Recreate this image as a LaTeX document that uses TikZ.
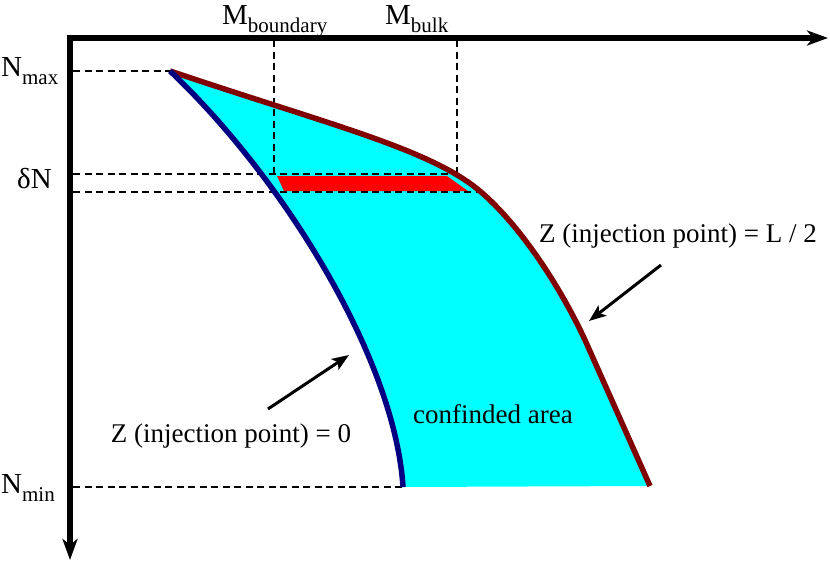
\documentclass[tikz,border=0pt]{standalone}
\usepackage{fontspec}
\setmainfont{Liberation Serif}
\usetikzlibrary{arrows.meta}
\definecolor{bulkred}{RGB}{128,0,0}
\definecolor{wallblue}{RGB}{0,0,128}
\definecolor{areacyan}{RGB}{0,255,255}
\definecolor{bandred}{RGB}{255,0,0}
\newcommand{\lowsub}[2]{#1\raisebox{-8pt}{\fontsize{21}{21}\selectfont #2}}
\tikzset{
	axis/.style={
		line width=5.5pt,
		line join=miter,
		{Stealth[length=21pt,width=15pt,inset=6pt]}-{Stealth[length=21pt,width=15pt,inset=6pt]}
	},
	guide/.style={line width=2.7pt, dash pattern=on 7pt off 4.5pt},
	profile/.style={line width=5.5pt},
	pointer/.style={line width=3pt, -{Stealth[length=17pt,width=13pt,inset=4pt]}},
	axlabel/.style={inner sep=0pt, anchor=base west, font=\fontsize{29}{29}\selectfont},
	note/.style={inner sep=0pt, anchor=base, font=\fontsize{27}{27}\selectfont}
}
\begin{document}
\begin{tikzpicture}[x=1pt, y=-1pt]
	\useasboundingbox (0,0) rectangle (830,568);
	\coordinate (origin) at (70,38);
	\coordinate (xend) at (828,38);
	\coordinate (yend) at (70,560);
	\coordinate (top) at (170,71);
	\coordinate (knee) at (481,192);
	\coordinate (bend) at (585,340);
	\coordinate (bulkbot) at (650,486);
	\coordinate (wallbot) at (403,487);
	\coordinate (ymax) at (73,71);
	\coordinate (ymin) at (73,487);
	\coordinate (dtop) at (73,174);
	\coordinate (dbot) at (73,192);
	\coordinate (mbnd) at (274,40);
	\coordinate (mbndc) at (274,174);
	\coordinate (mblk) at (457,40);
	\coordinate (mblkc) at (457,174);
	\coordinate (wtail) at (268,409);
	\coordinate (wtip) at (349,355);
	\coordinate (btail) at (661,265);
	\coordinate (btip) at (589,321);

	\fill[areacyan] (top) .. controls (330,125) and (431,149) .. (knee) .. controls (516,222) and (556,278) .. (bend) -- (bulkbot) -- (wallbot) .. controls (395,360) and (285,180) .. (top) -- cycle;
	\fill[bandred] (277,176) -- (447,176) -- (468,191) -- (284,191) -- cycle;

	\draw[guide] (ymax) -- (top);
	\draw[guide] (dtop) -- (mblkc);
	\draw[guide] (dbot) -- (knee);
	\draw[guide] (ymin) -- (wallbot);
	\draw[guide] (mbnd) -- (mbndc);
	\draw[guide] (mblk) -- (mblkc);

	\draw[profile, bulkred] (top) .. controls (330,125) and (431,149) .. (knee) .. controls (516,222) and (556,278) .. (bend) -- (bulkbot);
	\draw[profile, wallblue] (top) .. controls (285,180) and (395,360) .. (wallbot);

	\draw[axis] (yend) -- (origin) -- (xend);

	\draw[pointer] (wtail) -- (wtip);
	\draw[pointer] (btail) -- (btip);

	\node[axlabel] (nmax) at (1,76) {\lowsub{N}{max}};
	\node[axlabel] (dn) at (17,188) {δN};
	\node[axlabel] (nmin) at (1,493) {\lowsub{N}{min}};
	\node[axlabel] (mboundary) at (222,24) {\lowsub{M}{boundary}};
	\node[axlabel] (mbulk) at (385,24) {\lowsub{M}{bulk}};
	\node[note] (zwall) at (231,442) {Z (injection point) = 0};
	\node[note] (zbulk) at (678,242) {Z (injection point) = L / 2};
	\node[note] (area) at (493,423) {confinded area};
\end{tikzpicture}
\end{document}
